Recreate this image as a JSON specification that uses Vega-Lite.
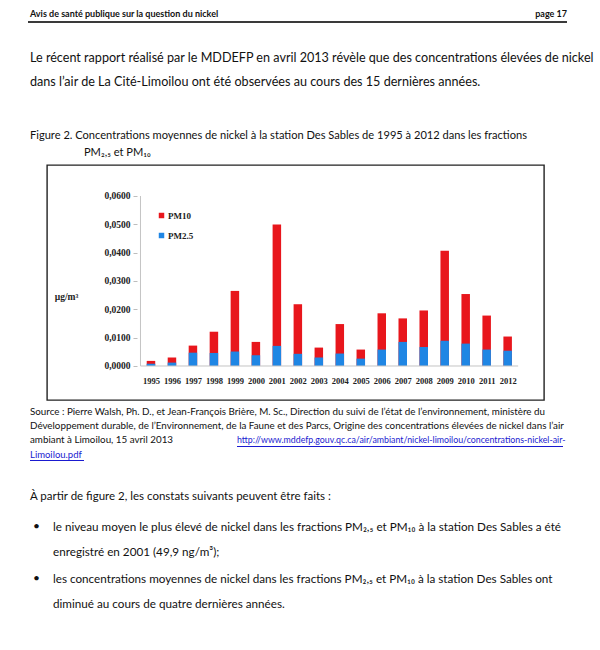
{
  "$schema": "https://vega.github.io/schema/vega-lite/v6.json",
  "padding": {"left": 28, "top": 0, "right": 0, "bottom": 0},
  "background": "white",
  "spacing": 0,
  "bounds": "flush",
  "resolve": {"scale": {"color": "independent"}, "legend": {"color": "independent"}},
  "config": {
    "view": {"stroke": null},
    "axis": {"labelOverlap": false},
    "title": {"font": "Lato", "anchor": "start", "frame": "group", "color": "#111111", "fontWeight": "normal", "subtitleFont": "Lato", "subtitleColor": "#111111"}
  },
  "datasets": {
    "vide": [],
    "nickel": [
      {"annee": 1995, "fraction": "PM10", "valeur": 0.0018},
      {"annee": 1996, "fraction": "PM10", "valeur": 0.0030},
      {"annee": 1997, "fraction": "PM10", "valeur": 0.0072},
      {"annee": 1998, "fraction": "PM10", "valeur": 0.0121},
      {"annee": 1999, "fraction": "PM10", "valeur": 0.0265},
      {"annee": 2000, "fraction": "PM10", "valeur": 0.0085},
      {"annee": 2001, "fraction": "PM10", "valeur": 0.0499},
      {"annee": 2002, "fraction": "PM10", "valeur": 0.0218},
      {"annee": 2003, "fraction": "PM10", "valeur": 0.0065},
      {"annee": 2004, "fraction": "PM10", "valeur": 0.0148},
      {"annee": 2005, "fraction": "PM10", "valeur": 0.0058},
      {"annee": 2006, "fraction": "PM10", "valeur": 0.0186},
      {"annee": 2007, "fraction": "PM10", "valeur": 0.0168},
      {"annee": 2008, "fraction": "PM10", "valeur": 0.0196},
      {"annee": 2009, "fraction": "PM10", "valeur": 0.0407},
      {"annee": 2010, "fraction": "PM10", "valeur": 0.0254},
      {"annee": 2011, "fraction": "PM10", "valeur": 0.0178},
      {"annee": 2012, "fraction": "PM10", "valeur": 0.0104},
      {"annee": 1995, "fraction": "PM2.5", "valeur": 0.0008},
      {"annee": 1996, "fraction": "PM2.5", "valeur": 0.0012},
      {"annee": 1997, "fraction": "PM2.5", "valeur": 0.0047},
      {"annee": 1998, "fraction": "PM2.5", "valeur": 0.0046},
      {"annee": 1999, "fraction": "PM2.5", "valeur": 0.0051},
      {"annee": 2000, "fraction": "PM2.5", "valeur": 0.0038},
      {"annee": 2001, "fraction": "PM2.5", "valeur": 0.0071},
      {"annee": 2002, "fraction": "PM2.5", "valeur": 0.0043},
      {"annee": 2003, "fraction": "PM2.5", "valeur": 0.0030},
      {"annee": 2004, "fraction": "PM2.5", "valeur": 0.0044},
      {"annee": 2005, "fraction": "PM2.5", "valeur": 0.0026},
      {"annee": 2006, "fraction": "PM2.5", "valeur": 0.0058},
      {"annee": 2007, "fraction": "PM2.5", "valeur": 0.0085},
      {"annee": 2008, "fraction": "PM2.5", "valeur": 0.0067},
      {"annee": 2009, "fraction": "PM2.5", "valeur": 0.0089},
      {"annee": 2010, "fraction": "PM2.5", "valeur": 0.0079},
      {"annee": 2011, "fraction": "PM2.5", "valeur": 0.0058},
      {"annee": 2012, "fraction": "PM2.5", "valeur": 0.0054}
    ]
  },
  "vconcat": [
    {"width": 539, "height": 21, "data": {"name": "vide"}, "mark": "point", "encoding": {}},
    {
      "hconcat": [
        {"width": 480, "height": 2, "view": {"fill": "#3a3a3a", "stroke": null}, "data": {"name": "vide"}, "mark": "point", "encoding": {},
         "title": {"text": "Avis de santé publique sur la question du nickel", "fontSize": 9, "fontWeight": "bold", "offset": 2, "dx": 2}},
        {"width": 59, "height": 2, "view": {"fill": "#3a3a3a", "stroke": null}, "data": {"name": "vide"}, "mark": "point", "encoding": {},
         "title": {"text": "page 17", "anchor": "end", "fontSize": 9, "fontWeight": "bold", "offset": 2}}
      ],
      "spacing": 0, "bounds": "flush"
    },
    {"width": 539, "height": 144, "data": {"name": "vide"}, "mark": "point", "encoding": {}},
    {
      "hconcat": [
        {"width": 19, "height": 235, "data": {"name": "vide"}, "mark": "point", "encoding": {}},
        {
          "width": 497,
          "height": 235,
          "view": {"stroke": "#222222", "strokeWidth": 1.4},
          "title": {
            "text": ["Le récent rapport réalisé par le MDDEFP en avril 2013 révèle que des concentrations élevées de nickel", "dans l’air de La Cité-Limoilou ont été observées au cours des 15 dernières années."],
            "subtitle": ["Figure 2. Concentrations moyennes de nickel à la station Des Sables de 1995 à 2012 dans les fractions", "\u200b\u00a0\u00a0\u00a0\u00a0\u00a0\u00a0\u00a0\u00a0\u00a0\u00a0\u00a0\u00a0\u00a0\u00a0\u00a0\u00a0\u00a0\u00a0\u00a0PM₂,₅ et PM₁₀"],
            "fontSize": 12.6, "lineHeight": 24,
            "subtitleFontSize": 11.1, "subtitleLineHeight": 17, "subtitlePadding": 41,
            "offset": 7, "dx": -17
          },
          "data": {"name": "nickel"},
          "layer": [
            {
              "mark": {"type": "bar", "width": 8.5},
              "encoding": {
                "x": {"field": "annee", "type": "quantitative",
                      "scale": {"domain": [1990.283, 2013.494], "nice": false, "zero": false},
                      "axis": {"title": null, "offset": -34, "values": [1995,1996,1997,1998,1999,2000,2001,2002,2003,2004,2005,2006,2007,2008,2009,2010,2011,2012],
                               "format": "d", "labelFont": "Liberation Serif", "labelFontSize": 8.5, "labelFontWeight": "bold", "labelColor": "#222222",
                               "ticks": false, "tickSize": 0, "labelPadding": 10, "domain": false, "grid": false, "labelOverlap": false, "labelFlush": false}},
                "y": {"field": "valeur", "type": "quantitative",
                      "scale": {"domain": [-0.012, 0.07094], "nice": false, "zero": false},
                      "axis": {"title": "µg/m³", "titleAngle": 0, "titleX": -71, "titleY": 131, "titleAlign": "center", "titleBaseline": "middle",
                               "titleFont": "Liberation Serif", "titleFontSize": 9.5, "titleFontWeight": "bold", "titleColor": "#222222",
                               "offset": -90, "values": [0, 0.01, 0.02, 0.03, 0.04, 0.05, 0.06],
                               "labelExpr": "replace(format(datum.value, '.4f'), '.', ',')",
                               "labelFont": "Liberation Serif", "labelFontSize": 9.5, "labelFontWeight": "bold", "labelColor": "#222222",
                               "labelPadding": 3, "tickSize": 4, "tickColor": "#bdbdbd", "domain": false, "grid": false, "labelOverlap": false}},
                "y2": {"datum": 0},
                "color": {"field": "fraction", "type": "nominal",
                          "scale": {"domain": ["PM10", "PM2.5"], "range": ["#e8161c", "#1f86e4"]},
                          "legend": {"title": null, "orient": "none", "legendX": 110, "legendY": 46, "symbolType": "square", "symbolSize": 30,
                                     "labelFont": "Liberation Serif", "labelFontSize": 9, "labelFontWeight": "bold", "labelColor": "#222222",
                                     "rowPadding": 10, "padding": 0, "labelOffset": 2, "symbolStrokeWidth": 0}}
              }
            },
            {
              "data": {"values": [{}]},
              "mark": {"type": "rule", "color": "#c4c4c4", "strokeWidth": 1},
              "encoding": {
                "x": {"datum": 1994.5, "type": "quantitative",
                      "axis": {"title": null, "offset": -34, "values": [1995,1996,1997,1998,1999,2000,2001,2002,2003,2004,2005,2006,2007,2008,2009,2010,2011,2012],
                               "format": "d", "labelFont": "Liberation Serif", "labelFontSize": 8.5, "labelFontWeight": "bold", "labelColor": "#222222",
                               "ticks": false, "tickSize": 0, "labelPadding": 10, "domain": false, "grid": false, "labelOverlap": false, "labelFlush": false}},
                "x2": {"datum": 2012.5},
                "y": {"datum": 0, "type": "quantitative",
                      "axis": {"title": "µg/m³", "titleAngle": 0, "titleX": -71, "titleY": 131, "titleAlign": "center", "titleBaseline": "middle",
                               "titleFont": "Liberation Serif", "titleFontSize": 9.5, "titleFontWeight": "bold", "titleColor": "#222222",
                               "offset": -90, "values": [0, 0.01, 0.02, 0.03, 0.04, 0.05, 0.06],
                               "labelExpr": "replace(format(datum.value, '.4f'), '.', ',')",
                               "labelFont": "Liberation Serif", "labelFontSize": 9.5, "labelFontWeight": "bold", "labelColor": "#222222",
                               "labelPadding": 3, "tickSize": 4, "tickColor": "#bdbdbd", "domain": false, "grid": false, "labelOverlap": false}}
              }
            },
            {
              "data": {"values": [{}]},
              "mark": {"type": "rule", "color": "#c4c4c4", "strokeWidth": 1},
              "encoding": {
                "x": {"datum": 1994.5, "type": "quantitative",
                      "axis": {"title": null, "offset": -34, "values": [1995,1996,1997,1998,1999,2000,2001,2002,2003,2004,2005,2006,2007,2008,2009,2010,2011,2012],
                               "format": "d", "labelFont": "Liberation Serif", "labelFontSize": 8.5, "labelFontWeight": "bold", "labelColor": "#222222",
                               "ticks": false, "tickSize": 0, "labelPadding": 10, "domain": false, "grid": false, "labelOverlap": false, "labelFlush": false}},
                "y": {"datum": 0, "type": "quantitative",
                      "axis": {"title": "µg/m³", "titleAngle": 0, "titleX": -71, "titleY": 131, "titleAlign": "center", "titleBaseline": "middle",
                               "titleFont": "Liberation Serif", "titleFontSize": 9.5, "titleFontWeight": "bold", "titleColor": "#222222",
                               "offset": -90, "values": [0, 0.01, 0.02, 0.03, 0.04, 0.05, 0.06],
                               "labelExpr": "replace(format(datum.value, '.4f'), '.', ',')",
                               "labelFont": "Liberation Serif", "labelFontSize": 9.5, "labelFontWeight": "bold", "labelColor": "#222222",
                               "labelPadding": 3, "tickSize": 4, "tickColor": "#bdbdbd", "domain": false, "grid": false, "labelOverlap": false}},
                "y2": {"datum": 0.06}
              }
            }
          ]
        }
      ],
      "spacing": 0, "bounds": "flush",
      "resolve": {"scale": {"color": "independent"}, "legend": {"color": "independent"}}
    },
    {"width": 539, "height": 281, "data": {"name": "vide"}, "mark": "point", "encoding": {}},
    {
      "hconcat": [
        {"width": 209, "height": 1, "data": {"name": "vide"}, "mark": "point", "encoding": {},
         "title": {"text": ["Source : Pierre Walsh, Ph. D., et Jean-François Brière, M. Sc., Direction du suivi de l’état de l’environnement, ministère du", "Développement durable, de l’Environnement, de la Faune et des Parcs, Origine des concentrations élevées de nickel dans l’air", "ambiant à Limoilou, 15 avril 2013"],
                   "fontSize": 9.8, "lineHeight": 14, "offset": 1, "dx": 2}},
        {"width": 326, "height": 1, "view": {"fill": "#1a1ad0", "stroke": null}, "data": {"name": "vide"}, "mark": "point", "encoding": {},
         "title": {"text": "http://www.mddefp.gouv.qc.ca/air/ambiant/nickel-limoilou/concentrations-nickel-air-", "fontSize": 8.8, "color": "#1a1ad0", "offset": 1}}
      ],
      "spacing": 0, "bounds": "flush"
    },
    {"width": 539, "height": 14, "data": {"name": "vide"}, "mark": "point", "encoding": {}},
    {
      "hconcat": [
        {"width": 2, "height": 1, "data": {"name": "vide"}, "mark": "point", "encoding": {}},
        {"width": 54, "height": 1, "view": {"fill": "#1a1ad0", "stroke": null}, "data": {"name": "vide"}, "mark": "point", "encoding": {},
         "title": {"text": "Limoilou.pdf", "fontSize": 9.5, "color": "#1a1ad0", "offset": 1}}
      ],
      "spacing": 0, "bounds": "flush"
    },
    {"width": 539, "height": 43, "data": {"name": "vide"}, "mark": "point", "encoding": {}},
    {"width": 539, "height": 57, "data": {"name": "vide"}, "mark": "point", "encoding": {},
     "title": {"text": "À partir de figure 2, les constats suivants peuvent être faits :", "fontSize": 11.5, "offset": 1, "dx": 2}},
    {
      "hconcat": [
        {"width": 25, "height": 52, "data": {"name": "vide"}, "mark": "point", "encoding": {},
         "title": {"text": "•", "fontSize": 12, "offset": 26.6, "dx": 5}},
        {"width": 514, "height": 52, "data": {"name": "vide"}, "mark": "point", "encoding": {},
         "title": {"text": ["le niveau moyen le plus élevé de nickel dans les fractions PM₂,₅ et PM₁₀ à la station Des Sables a été", "enregistré en 2001 (49,9 ng/m³);"],
                   "fontSize": 11.7, "lineHeight": 25, "offset": 1.6}}
      ],
      "spacing": 0, "bounds": "flush"
    },
    {"width": 539, "height": 52, "data": {"name": "vide"}, "mark": "point", "encoding": {}},
    {
      "hconcat": [
        {"width": 25, "height": 10, "data": {"name": "vide"}, "mark": "point", "encoding": {},
         "title": {"text": "•", "fontSize": 12, "offset": 26.6, "dx": 5}},
        {"width": 514, "height": 10, "data": {"name": "vide"}, "mark": "point", "encoding": {},
         "title": {"text": ["les concentrations moyennes de nickel dans les fractions PM₂,₅ et PM₁₀ à la station Des Sables ont", "diminué au cours de quatre dernières années."],
                   "fontSize": 11.7, "lineHeight": 25, "offset": 1.6}}
      ],
      "spacing": 0, "bounds": "flush"
    },
    {"width": 539, "height": 10, "data": {"name": "vide"}, "mark": "point", "encoding": {}}
  ]
}
